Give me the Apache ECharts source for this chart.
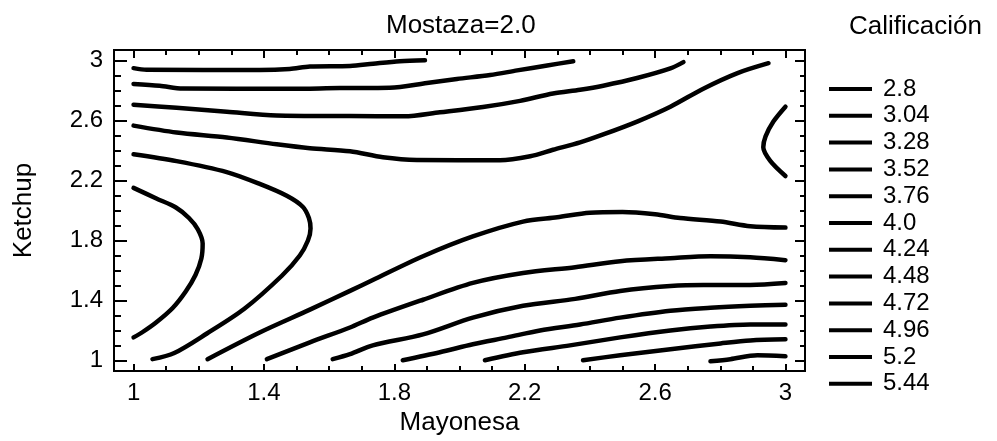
<!DOCTYPE html>
<html>
<head>
<meta charset="utf-8">
<script src="https://cdn.jsdelivr.net/npm/echarts@6/dist/echarts.min.js"></script>
<style>
html,body{margin:0;padding:0;background:#fff;}
#chart{width:997px;height:441px;}
</style>
</head>
<body>
<div id="chart"></div>
<script>
// ---- Data ----
const chartTitle = 'Mostaza=2.0';
const xName = 'Mayonesa';
const yName = 'Ketchup';
const legendTitle = 'Calificación';
const levels = ['2.8','3.04','3.28','3.52','3.76','4.0','4.24','4.48','4.72','4.96','5.2','5.44'];
const xTicks = [1, 1.4, 1.8, 2.2, 2.6, 3];
const yTicks = [1, 1.4, 1.8, 2.2, 2.6, 3];
const xMinorTicks = [1.1,1.2,1.3,1.5,1.6,1.7,1.9,2.0,2.1,2.3,2.4,2.5,2.7,2.8,2.9];
const yMinorTicks = [1.1,1.2,1.3,1.5,1.6,1.7,1.9,2.0,2.1,2.3,2.4,2.5,2.7,2.8,2.9];

// contour lines, [Mayonesa, Ketchup]
const c304 = [[1.0,2.949],[1.04,2.938],[1.387,2.936],[1.479,2.943],[1.541,2.960],[1.664,2.964],[1.735,2.979],[1.817,2.995],[1.894,3.002]];
const c328 = [[1.0,2.844],[1.080,2.832],[1.151,2.813],[1.479,2.811],[1.633,2.816],[1.786,2.818],[1.900,2.850],[1.992,2.877],[2.094,2.903],[2.177,2.934],[2.269,2.967],[2.349,2.995]];
const c352a = [[1.0,2.705],[1.132,2.685],[1.286,2.659],[1.439,2.634],[1.664,2.630],[1.830,2.628],[1.940,2.655],[2.072,2.690],[2.186,2.731],[2.287,2.780],[2.370,2.805],[2.441,2.832],[2.545,2.883],[2.647,2.947],[2.687,2.989]];
const c352b = [[1.0,2.151],[1.070,2.080],[1.130,2.020],[1.170,1.950],[1.197,1.875],[1.212,1.780],[1.208,1.680],[1.190,1.570],[1.160,1.460],[1.120,1.350],[1.070,1.255],[1.028,1.190],[1.0,1.154]];
const c376a = [[1.0,2.566],[1.132,2.520],[1.286,2.487],[1.439,2.441],[1.541,2.415],[1.664,2.395],[1.765,2.355],[1.869,2.337],[2.124,2.335],[2.217,2.362],[2.287,2.405],[2.370,2.454],[2.441,2.507],[2.545,2.593],[2.647,2.692],[2.748,2.812],[2.853,2.916],[2.948,2.982]];
const c376b = [[1.0,2.375],[1.132,2.329],[1.286,2.256],[1.387,2.177],[1.470,2.098],[1.519,2.025],[1.538,1.950],[1.543,1.880],[1.535,1.800],[1.510,1.700],[1.455,1.565],[1.340,1.345],[1.225,1.180],[1.125,1.050],[1.058,1.009]];
const c376c = [[3.0,2.692],[2.963,2.593],[2.939,2.494],[2.932,2.421],[2.954,2.329],[3.0,2.230]];
const c400 = [[1.227,1.009],[1.387,1.187],[1.541,1.339],[1.664,1.464],[1.734,1.537],[1.888,1.695],[2.041,1.827],[2.195,1.926],[2.300,1.955],[2.400,1.985],[2.500,1.990],[2.600,1.975],[2.677,1.950],[2.801,1.926],[2.892,1.895],[3.0,1.886]];
const c424 = [[1.409,1.009],[1.541,1.121],[1.664,1.220],[1.734,1.286],[1.888,1.405],[2.041,1.517],[2.195,1.583],[2.355,1.622],[2.493,1.662],[2.647,1.682],[2.770,1.695],[2.892,1.688],[3.0,1.669]];
const c448 = [[1.611,1.009],[1.664,1.042],[1.734,1.101],[1.888,1.174],[2.041,1.286],[2.195,1.365],[2.355,1.411],[2.493,1.464],[2.647,1.497],[2.748,1.504],[2.892,1.504],[3.0,1.517]];
const c472 = [[1.826,1.002],[1.940,1.055],[2.041,1.108],[2.146,1.154],[2.247,1.200],[2.370,1.240],[2.493,1.286],[2.647,1.332],[2.770,1.352],[2.892,1.365],[3.0,1.372]];
const c496 = [[2.078,1.002],[2.195,1.055],[2.339,1.101],[2.493,1.154],[2.647,1.200],[2.770,1.226],[2.892,1.240],[3.0,1.240]];
const c520 = [[2.379,1.002],[2.493,1.035],[2.647,1.075],[2.801,1.114],[2.892,1.134],[3.0,1.141]];
const c544 = [[2.770,0.995],[2.831,1.009],[2.914,1.035],[3.0,1.028]];

const contourList = [
  ['2.8', []],
  ['3.04', c304],
  ['3.28', c328],
  ['3.52', c352a], ['3.52', c352b],
  ['3.76', c376a], ['3.76', c376b], ['3.76', c376c],
  ['4.0', c400],
  ['4.24', c424],
  ['4.48', c448],
  ['4.72', c472],
  ['4.96', c496],
  ['5.2', c520],
  ['5.44', c544]
];

// ---- Chart ----
const FONT = 'Liberation Sans, Arial, Helvetica, sans-serif';
const XMIN = 0.94, XMAX = 3.06, YMIN = 0.93, YMAX = 3.07;
const black = '#000';

function xAx(pos, ticks, len, labels) {
  return {
    type: 'value', position: pos, min: XMIN, max: XMAX,
    axisLine: { show: true, onZero: false, lineStyle: { color: black, width: 2 } },
    axisTick: { show: true, inside: true, length: len, customValues: ticks, lineStyle: { color: black, width: 2 } },
    axisLabel: labels ? { show: true, customValues: ticks, fontSize: 24, color: black, fontFamily: FONT, margin: 10 } : { show: false },
    splitLine: { show: false },
    name: labels ? xName : '', nameLocation: 'middle', nameGap: 39,
    nameTextStyle: { fontSize: 26, color: black, fontFamily: FONT }
  };
}
function yAx(pos, ticks, len, labels) {
  return {
    type: 'value', position: pos, min: YMIN, max: YMAX,
    axisLine: { show: true, onZero: false, lineStyle: { color: black, width: 2 } },
    axisTick: { show: true, inside: true, length: len, customValues: ticks, lineStyle: { color: black, width: 2 } },
    axisLabel: labels ? { show: true, customValues: ticks, fontSize: 24, color: black, fontFamily: FONT, margin: 11 } : { show: false },
    splitLine: { show: false },
    name: labels ? yName : '', nameLocation: 'middle', nameGap: 77,
    nameTextStyle: { fontSize: 26, color: black, fontFamily: FONT }
  };
}

const series = contourList.map(function (c) {
  return {
    type: 'line', name: c[0], data: c[1],
    xAxisIndex: 0, yAxisIndex: 0,
    showSymbol: false, symbol: 'none', smooth: 0.3,
    lineStyle: { color: black, width: 4.5, cap: 'round', join: 'round' },
    itemStyle: { color: black },
    silent: true, clip: true, animation: false
  };
});

const chart = echarts.init(document.getElementById('chart'));
chart.setOption({
  backgroundColor: '#fff',
  animation: false,
  textStyle: { fontFamily: FONT },
  title: [
    { text: chartTitle, left: 386, top: 13, padding: 0,
      textStyle: { fontSize: 26, fontWeight: 'normal', color: black, fontFamily: FONT } },
    { text: legendTitle, left: 849, top: 14, padding: 0,
      textStyle: { fontSize: 26, fontWeight: 'normal', color: black, fontFamily: FONT } }
  ],
  grid: { left: 114, right: 192, top: 50, bottom: 67, containLabel: false },
  xAxis: [
    xAx('bottom', xTicks, 7, true),
    xAx('bottom', xMinorTicks, 5, false),
    xAx('top', xTicks, 8, false),
    xAx('top', xMinorTicks, 5, false)
  ],
  yAxis: [
    yAx('left', yTicks, 13, true),
    yAx('left', yMinorTicks, 7, false),
    yAx('right', yTicks, 10, false),
    yAx('right', yMinorTicks, 5, false)
  ],
  legend: {
    data: levels, orient: 'vertical', left: 829, top: 77, padding: 0,
    icon: 'rect', itemWidth: 43, itemHeight: 4, itemGap: 2.8,
    itemStyle: { color: black },
    selectedMode: false,
    textStyle: { fontSize: 24, lineHeight: 24, color: black, fontFamily: FONT, padding: [0, 0, 0, 6] }
  },
  series: series
});
</script>
</body>
</html>
